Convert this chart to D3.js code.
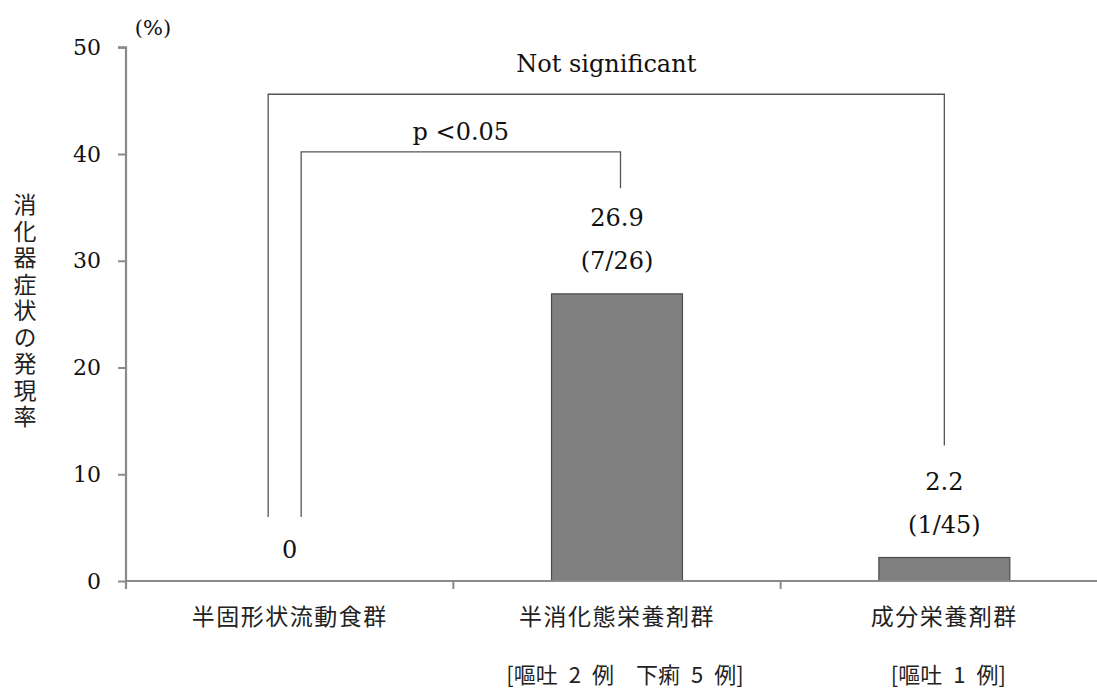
<!DOCTYPE html>
<html>
<head>
<meta charset="utf-8">
<script src="https://cdn.jsdelivr.net/npm/d3@7"></script>
<style>
  html, body { margin: 0; padding: 0; background: #fff; }
  svg { display: block; }
  .num { font-family: "DejaVu Serif", "Liberation Serif", serif; fill: #111; }
  .jp { font-family: "Noto Sans CJK JP", sans-serif; fill: #222; }
</style>
</head>
<body>
<svg id="chart" width="1097" height="690"></svg>
<script>
// Groups, incidence (%) and case counts
const categories = ["半固形状流動食群", "半消化態栄養剤群", "成分栄養剤群"];
const rates = [0, 26.9, 2.2];
const counts = ["", "(7/26)", "(1/45)"];
const symptomNotes = ["", "[嘔吐\u20022\u2002例\u3000下痢\u20025\u2002例]", "[嘔吐\u20021\u2002例]"];
const yTicks = [0, 10, 20, 30, 40, 50];
const yTitle = "消化器症状の発現率";
const yUnit = "(%)";

// Significance brackets between groups (levels in % units)
const brackets = [
  { from: 0, to: 2, level: 45.6, fromEnd: 6.0, toEnd: 12.7, fromShift: -21.5, toShift: 0, label: "Not significant", gap: 22 },
  { from: 0, to: 1, level: 40.2, fromEnd: 6.0, toEnd: 36.8, fromShift: 11.5, toShift: 3.5, label: "p <0.05", gap: 12 }
];

const W = 1097, H = 690;
const svg = d3.select("#chart");

const x = d3.scaleBand().domain(categories).range([126, 1108]).paddingInner(0).paddingOuter(0);
const y = d3.scaleLinear().domain([0, 50]).range([581, 47.3]);
const cx = i => x(categories[i]) + x.bandwidth() / 2;
const barW = x.bandwidth() * 0.4;

const axisColor = "#8a8a8a";

// Bars
svg.append("g").selectAll("rect")
  .data(rates)
  .join("rect")
  .attr("x", (d, i) => cx(i) - barW / 2)
  .attr("width", barW)
  .attr("y", d => y(d))
  .attr("height", d => y(0) - y(d))
  .attr("fill", "#808080")
  .attr("stroke", d => d > 0 ? "#4a4a4a" : "none")
  .attr("stroke-width", 1.2);

// Y axis
const yAxis = d3.axisLeft(y).tickValues(yTicks).tickSize(8).tickPadding(17).tickFormat(d3.format("d"));
const gy = svg.append("g").attr("transform", "translate(126,0)").call(yAxis);
gy.select(".domain").attr("stroke", axisColor).attr("stroke-width", 2.2).attr("d", `M-8,${y(50)}H0V${y(0) + 8}`);
gy.selectAll(".tick line").attr("stroke", axisColor).attr("stroke-width", 2);
gy.selectAll(".tick text").attr("class", "num").style("font-size", "22px").attr("fill", "#111");

// X axis line with group separator ticks
const gx = svg.append("g");
gx.append("line")
  .attr("x1", 126).attr("x2", W)
  .attr("y1", y(0)).attr("y2", y(0))
  .attr("stroke", axisColor).attr("stroke-width", 2.2);
gx.selectAll("line.sep")
  .data(categories.slice(1))
  .join("line")
  .attr("class", "sep")
  .attr("x1", d => x(d)).attr("x2", d => x(d))
  .attr("y1", y(0)).attr("y2", y(0) + 8)
  .attr("stroke", axisColor).attr("stroke-width", 2);

// Category names and symptom notes
svg.append("g").selectAll("text")
  .data(categories)
  .join("text")
  .attr("class", "jp")
  .attr("x", (d, i) => cx(i))
  .attr("y", 615)
  .attr("text-anchor", "middle")
  .attr("dominant-baseline", "central")
  .style("font-size", "23px")
  .style("letter-spacing", "1.5px")
  .text(d => d);

svg.append("g").selectAll("text")
  .data(symptomNotes)
  .join("text")
  .attr("class", "jp")
  .attr("x", (d, i) => cx(i) + (i === 1 ? 8 : 4))
  .attr("y", 683)
  .attr("text-anchor", "middle")
  .style("font-size", "22px")
  .text(d => d);

// Value labels above bars
const lbl = svg.append("g");
rates.forEach((v, i) => {
  const top = y(v);
  if (counts[i]) {
    lbl.append("text").attr("class", "num")
      .attr("x", cx(i)).attr("y", top - 76)
      .attr("text-anchor", "middle").attr("dominant-baseline", "central")
      .style("font-size", "24px").text(d3.format(".1f")(v));
    lbl.append("text").attr("class", "num")
      .attr("x", cx(i)).attr("y", top - 33)
      .attr("text-anchor", "middle").attr("dominant-baseline", "central")
      .style("font-size", "24px").text(counts[i]);
  } else {
    lbl.append("text").attr("class", "num")
      .attr("x", cx(i)).attr("y", top - 31)
      .attr("text-anchor", "middle").attr("dominant-baseline", "central")
      .style("font-size", "24px").text(d3.format("d")(v));
  }
});

// Significance brackets
const br = svg.append("g");
brackets.forEach(b => {
  const x1 = cx(b.from) + b.fromShift, x2 = cx(b.to) + b.toShift;
  br.append("path")
    .attr("d", `M${x1},${y(b.fromEnd)}V${y(b.level)}H${x2}V${y(b.toEnd)}`)
    .attr("fill", "none").attr("stroke", "#555").attr("stroke-width", 1.3);
  br.append("text").attr("class", "num")
    .attr("x", (x1 + x2) / 2).attr("y", y(b.level) - b.gap)
    .attr("text-anchor", "middle")
    .style("font-size", "24px").text(b.label);
});

// Unit and vertical axis title
svg.append("text").attr("class", "num")
  .attr("x", 153).attr("y", 28)
  .attr("text-anchor", "middle").attr("dominant-baseline", "central")
  .style("font-size", "21px").text(yUnit);

svg.append("text")
  .attr("class", "jp")
  .attr("x", 25)
  .attr("y", 193)
  .style("writing-mode", "vertical-rl")
  .style("font-size", "23px")
  .style("letter-spacing", "3.5px")
  .text(yTitle);
</script>
</body>
</html>
